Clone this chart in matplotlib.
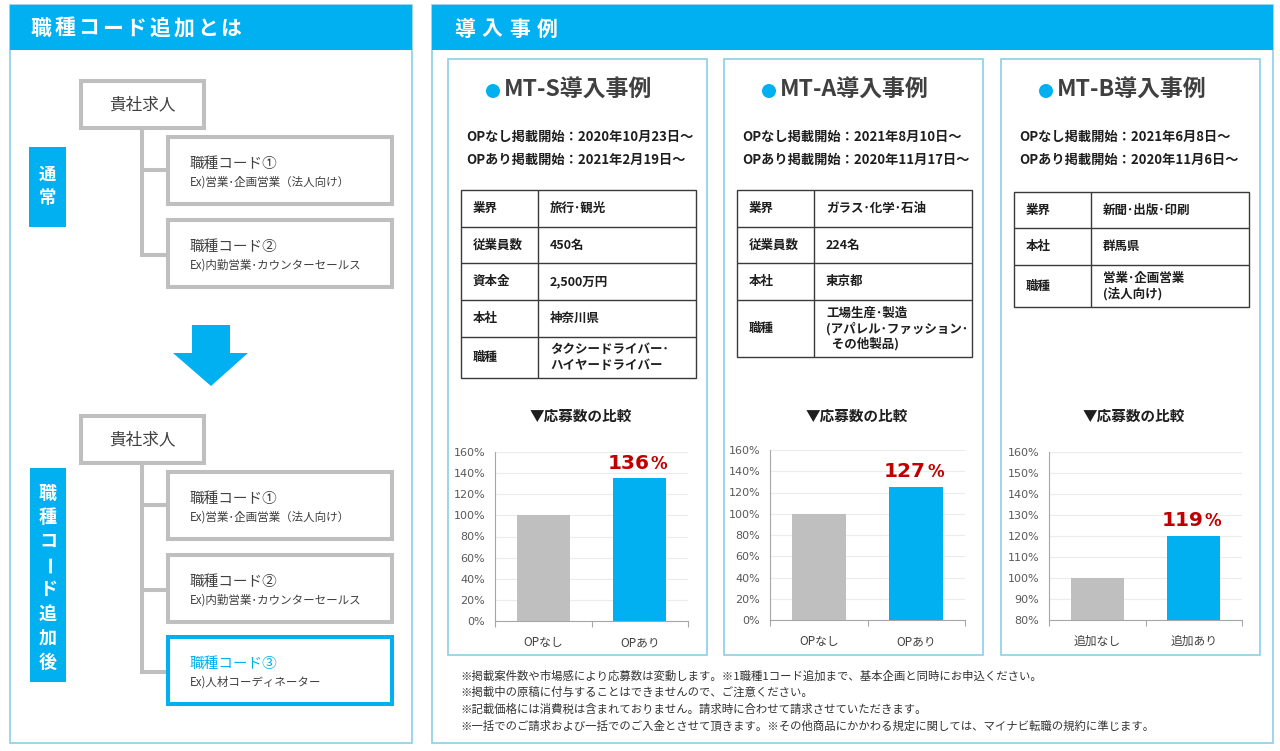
import matplotlib
matplotlib.use('Agg')
import matplotlib.pyplot as plt
from matplotlib.patches import Rectangle, Circle, Polygon

plt.rcParams['font.family'] = ['Noto Sans CJK JP', 'DejaVu Sans']

# ---- data ----
left_header = '職種コード追加とは'
right_header = '導入事例'
before_label = '通常'
after_label = '職種コード追加後'
parent_job = '貴社求人'
code_titles = ['職種コード①', '職種コード②', '職種コード③']
code_examples = ['Ex)営業･企画営業（法人向け）', 'Ex)内勤営業･カウンターセールス', 'Ex)人材コーディネーター']

case_titles = ['MT-S導入事例', 'MT-A導入事例', 'MT-B導入事例']
case_dates = [
    ['OPなし掲載開始：2020年10月23日～', 'OPあり掲載開始：2021年2月19日～'],
    ['OPなし掲載開始：2021年8月10日～', 'OPあり掲載開始：2020年11月17日～'],
    ['OPなし掲載開始：2021年6月8日～', 'OPあり掲載開始：2020年11月6日～'],
]
table_labels = [
    ['業界', '従業員数', '資本金', '本社', '職種'],
    ['業界', '従業員数', '本社', '職種'],
    ['業界', '本社', '職種'],
]
table_values = [
    ['旅行･観光', '450名', '2,500万円', '神奈川県', ['タクシードライバー･', 'ハイヤードライバー']],
    ['ガラス･化学･石油', '224名', '東京都', ['工場生産･製造', '(アパレル･ファッション･', '  その他製品)']],
    ['新聞･出版･印刷', '群馬県', ['営業･企画営業', '(法人向け)']],
]
chart_title = '▼応募数の比較'
bar_categories = [['OPなし', 'OPあり'], ['OPなし', 'OPあり'], ['追加なし', '追加あり']]
bar_values = [[100, 135], [100, 125], [100, 120]]
bar_callouts = ['136', '127', '119']
y_ticks = [list(range(0, 161, 20)), list(range(0, 161, 20)), list(range(80, 161, 10))]

notes = [
    '※掲載案件数や市場感により応募数は変動します。※1職種1コード追加まで、基本企画と同時にお申込ください。',
    '※掲載中の原稿に付与することはできませんので、ご注意ください。',
    '※記載価格には消費税は含まれておりません。請求時に合わせて請求させていただきます。',
    '※一括でのご請求および一括でのご入金とさせて頂きます。※その他商品にかかわる規定に関しては、マイナビ転職の規約に準じます。',
]

# ---- styles ----
BLUE = '#00b0f0'
FRAME = '#8ccfe6'
GRAY = '#bfbfbf'
DARK = '#404040'
TXT = '#1e1e1e'
RED = '#c00000'

W, H = 1280, 751
fig = plt.figure(figsize=(W / 100, H / 100), dpi=100)
ax = fig.add_axes([0, 0, 1, 1])
ax.set_xlim(0, W)
ax.set_ylim(H, 0)
ax.axis('off')


def rect(x0, y0, x1, y1, ec='none', lw=0, fc='white', z=2):
    ax.add_patch(Rectangle((x0, y0), x1 - x0, y1 - y0, fc=fc, ec=ec, lw=lw, zorder=z))


def line(xs, ys, c=GRAY, lw=2.9, z=1):
    ax.plot(xs, ys, color=c, lw=lw, zorder=z, solid_capstyle='butt')


# ---- left panel ----
rect(10, 5, 412, 743, ec=FRAME, lw=1.2, z=0)
rect(10, 5, 412, 50, fc=BLUE, z=1)
for i, ch in enumerate(left_header):
    ax.text(41 + 23.8 * i, 28, ch, color='white', fontsize=15, fontweight='bold',
            ha='center', va='center', zorder=3)

rect(29, 147, 66, 227, fc=BLUE)
for i, ch in enumerate(before_label):
    ax.text(47.5, 175 + 23 * i, ch, color='white', fontsize=12.5, fontweight='bold',
            ha='center', va='center', zorder=3)

rect(30, 468, 66, 682, fc=BLUE)
for i, ch in enumerate(after_label):
    ax.text(48, 493 + 24.2 * i, ch, color='white', fontsize=13, fontweight='bold',
            ha='center', va='center', zorder=3, rotation=(-90 if ch == 'ー' else 0))


def job_tree(top, child_tops, n):
    rect(81, top, 204, top + 47, ec=GRAY, lw=2.9)
    ax.text(142, top + 24, parent_job, fontsize=12, color=DARK, ha='center', va='center', zorder=3)
    ends = []
    for k in range(n):
        y0 = child_tops[k]
        h = 67
        ec = BLUE if k == 2 else GRAY
        rect(168, y0, 392, y0 + h, ec=ec, lw=2.9)
        ax.text(190, y0 + 27, code_titles[k], fontsize=10.5,
                color=(BLUE if k == 2 else DARK), ha='left', va='center', zorder=3)
        ax.text(190, y0 + 45, code_examples[k], fontsize=8.3, color=DARK,
                ha='left', va='center', zorder=3)
        mid = y0 + 35 - (2 if k == 0 else 0)
        line([142, 168], [mid, mid])
        ends.append(mid)
    line([142, 142], [top + 47, ends[-1] + 1.5])


job_tree(81, [137, 220], 2)
job_tree(416, [472, 555, 637], 3)

# arrow
ax.add_patch(Polygon([(192, 325), (230, 325), (230, 353), (248, 353), (211, 386),
                      (173, 353), (192, 353)], closed=True, fc=BLUE, ec='none', zorder=2))

# ---- right panel ----
rect(432, 5, 1273, 743, ec=FRAME, lw=1.2, z=0)
rect(432, 5, 1273, 50, fc=BLUE, z=1)
for i, ch in enumerate(right_header):
    ax.text(465 + 27.3 * i, 29, ch, color='white', fontsize=15, fontweight='bold',
            ha='center', va='center', zorder=3)

card_left = [448, 724, 1001]
card_w = 259
table_rows = [
    [190, 227, 263, 300, 337, 378],
    [190, 227, 263, 300, 357],
    [192, 228, 265, 307],
]
chart_boxes = [(495, 452, 688, 621), (770, 450, 965, 620), (1049, 452, 1242, 620)]

for c in range(3):
    L = card_left[c]
    rect(L, 59, L + card_w, 655, ec=FRAME, lw=1.2, z=1)
    ax.add_patch(Circle((L + 45, 91), 7, fc=BLUE, ec='none', zorder=3))
    ax.text(L + 56, 90, case_titles[c], fontsize=16.5, fontweight='bold', color=DARK,
            ha='left', va='center', zorder=3)
    for j, d in enumerate(case_dates[c]):
        ax.text(L + 18, 137 + 22.5 * j, d, fontsize=9.5, fontweight='bold', color=TXT,
                ha='left', va='center', zorder=3)
    # table
    rows = table_rows[c]
    tx0, tx1, tdiv = L + 13, L + 248, L + 90
    rect(tx0, rows[0], tx1, rows[-1], ec='#3a3a3a', lw=1.0, z=2)
    line([tdiv, tdiv], [rows[0], rows[-1]], c='#3a3a3a', lw=1.0, z=3)
    for r in range(1, len(rows) - 1):
        line([tx0, tx1], [rows[r], rows[r]], c='#3a3a3a', lw=1.0, z=3)
    for r, lab in enumerate(table_labels[c]):
        yc = (rows[r] + rows[r + 1]) / 2
        ax.text(tx0 + 12, yc, lab, fontsize=9, fontweight='bold', color=TXT,
                ha='left', va='center', zorder=4)
        val = table_values[c][r]
        vlines = val if isinstance(val, list) else [val]
        n = len(vlines)
        for q, s in enumerate(vlines):
            ax.text(tdiv + 12, yc + (q - (n - 1) / 2) * 15.5, s, fontsize=9,
                    fontweight='bold', color=TXT, ha='left', va='center', zorder=4)
    ax.text(L + card_w / 2 + 3, 416, chart_title, fontsize=10.5, fontweight='bold',
            color=TXT, ha='center', va='center', zorder=3)

    # bar chart
    x0, y0, x1, y1 = chart_boxes[c]
    cax = fig.add_axes([x0 / W, 1 - y1 / H, (x1 - x0) / W, (y1 - y0) / H])
    cax.set_facecolor('none')
    ticks = y_ticks[c]
    cax.set_ylim(ticks[0], ticks[-1])
    cax.set_xlim(-0.5, 1.5)
    cax.bar([0, 1], bar_values[c], width=0.55, color=[GRAY, BLUE], zorder=3)
    cax.set_yticks(ticks)
    cax.set_yticklabels([f'{t}%' for t in ticks], family='DejaVu Sans', fontsize=8, color='#595959')
    cax.set_xticks([0, 1])
    cax.set_xticklabels(bar_categories[c], fontsize=8.5, color=DARK)
    cax.set_xticks([-0.5, 0.5, 1.5], minor=True)
    cax.tick_params(axis='y', length=0, pad=7)
    cax.tick_params(axis='x', which='major', length=0, pad=11)
    cax.tick_params(axis='x', which='minor', length=4, color='#a6a6a6', width=0.8)
    cax.grid(axis='y', color='#ececec', lw=0.8, zorder=0)
    for sp in ['top', 'right']:
        cax.spines[sp].set_visible(False)
    for sp in ['left', 'bottom']:
        cax.spines[sp].set_color('#a6a6a6')
        cax.spines[sp].set_linewidth(0.8)
    num = cax.annotate(bar_callouts[c], xy=(1, bar_values[c][1]), xytext=(7, 7),
                       textcoords='offset points', ha='right', va='baseline',
                       family='DejaVu Sans', fontsize=14.5, fontweight='bold', color=RED, zorder=5)
    cax.annotate('%', xy=(1, 0), xycoords=num, xytext=(1, 0), textcoords='offset points',
                 ha='left', va='bottom', family='DejaVu Sans', fontsize=12,
                 fontweight='bold', color=RED, zorder=5)

for i, s in enumerate(notes):
    ax.text(460, 676 + 16.6 * i, s, fontsize=8.2, color='#333333', ha='left', va='center', zorder=3)

fig.savefig('out.png', dpi=100)
